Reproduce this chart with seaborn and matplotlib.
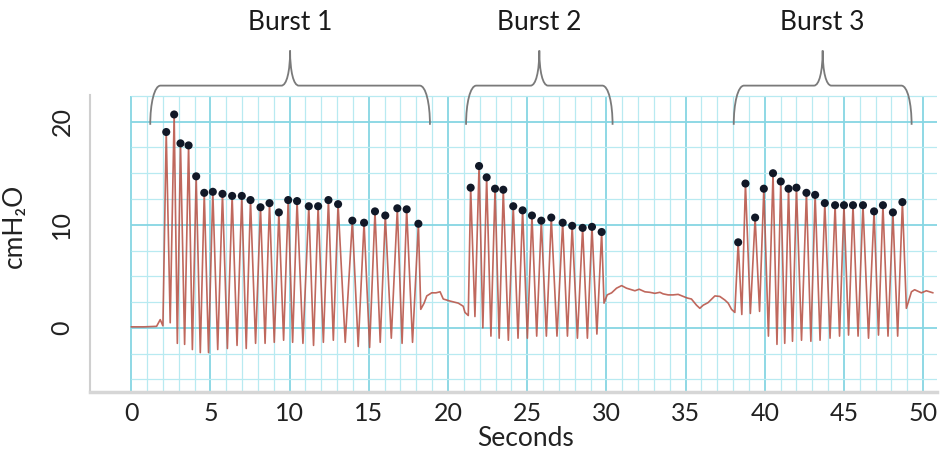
import matplotlib
matplotlib.use("Agg")
import numpy as np
import pandas as pd
import matplotlib.pyplot as plt
from matplotlib.path import Path
from matplotlib.patches import PathPatch
import seaborn as sns

# ---- values (seconds, cmH2O) ----
pre_t = [0.0, 0.8, 1.6, 1.83, 2.0]
pre_v = [0.1, 0.1, 0.15, 0.8, 0.2]

b1_peak_t = [2.21, 2.71, 3.11, 3.62, 4.10, 4.61, 5.15, 5.76, 6.37, 6.98, 7.53, 8.16, 8.73, 9.32,
             9.91, 10.47, 11.21, 11.80, 12.45, 13.06, 13.96, 14.70, 15.39, 16.04, 16.80, 17.39, 18.13]
b1_peak_v = [19.0, 20.7, 17.9, 17.7, 14.7, 13.1, 13.2, 13.0, 12.8, 12.8, 12.4, 11.7, 12.1, 11.2,
             12.4, 12.3, 11.8, 11.8, 12.4, 12.0, 10.4, 10.2, 11.3, 10.9, 11.6, 11.5, 10.1]
b1_trough_t = [2.46, 2.91, 3.37, 3.86, 4.36, 4.88, 5.46, 6.07, 6.68, 7.26, 7.85, 8.45, 9.03,
               9.62, 10.19, 10.84, 11.51, 12.13, 12.76, 13.51, 14.33, 15.05, 15.72, 16.42, 17.10, 17.76]
b1_trough_v = [0.5, -1.5, -1.6, -2.1, -2.4, -2.4, -2.1, -2.0, -1.7, -2.0, -1.5, -1.5, -1.4,
               -1.2, -1.4, -1.5, -1.7, -1.4, -1.2, -1.4, -1.8, -1.9, -1.4, -1.0, -1.5, -1.4]

gap1_t = [18.28, 18.49, 18.66, 18.97, 19.24, 19.5, 19.7, 20.13, 20.65, 20.96, 21.07, 21.28]
gap1_v = [1.8, 2.4, 3.1, 3.4, 3.4, 3.5, 2.8, 2.6, 2.4, 2.1, 1.5, 1.2]

b2_peak_t = [21.43, 21.96, 22.44, 22.97, 23.49, 24.12, 24.71, 25.30, 25.89, 26.52, 27.24,
             27.84, 28.50, 29.09, 29.70]
b2_peak_v = [13.6, 15.7, 14.6, 13.5, 13.4, 11.8, 11.4, 10.9, 10.4, 10.7, 10.2, 9.9, 9.7, 9.8, 9.3]
b2_trough_t = [21.70, 22.20, 22.71, 23.23, 23.81, 24.42, 25.01, 25.60, 26.21, 26.88, 27.54,
               28.17, 28.80, 29.40]
b2_trough_v = [1.1, 0.0, -0.8, -1.0, -1.2, -1.0, -1.0, -0.8, -0.8, -0.8, -0.8, -1.0, -1.0, -0.6]

gap2_t = [29.85, 30.05, 30.33, 30.64, 30.96, 31.27, 31.59, 31.8, 32.07, 32.43, 32.74, 33.06,
          33.38, 33.58, 33.9, 34.21, 34.53, 34.85, 35.1, 35.37, 35.69, 35.9, 36.11, 36.42,
          36.85, 37.16, 37.48, 37.69, 37.9, 38.11]
gap2_v = [2.4, 3.2, 3.4, 3.85, 4.1, 3.85, 3.7, 3.6, 3.75, 3.5, 3.45, 3.35, 3.45, 3.3, 3.2, 3.2,
          3.25, 3.05, 2.9, 2.8, 2.2, 1.9, 2.2, 2.45, 3.1, 3.05, 2.7, 2.4, 1.8, 1.5]

b3_peak_t = [38.32, 38.78, 39.39, 39.94, 40.52, 41.01, 41.50, 42.00, 42.63, 43.18, 43.79,
             44.44, 45.00, 45.57, 46.20, 46.90, 47.46, 48.09, 48.69]
b3_peak_v = [8.3, 14.0, 10.7, 13.5, 15.0, 14.2, 13.5, 13.6, 13.1, 12.9, 12.1, 11.9, 11.9, 11.9,
             11.9, 11.3, 11.9, 11.2, 12.2]
b3_trough_t = [38.55, 39.09, 39.67, 40.23, 40.77, 41.26, 41.75, 42.32, 42.91, 43.49, 44.12,
               44.72, 45.29, 45.89, 46.55, 47.18, 47.78, 48.39]
b3_trough_v = [1.3, 1.4, 1.6, -0.8, -1.6, -1.5, -1.3, -1.2, -1.3, -1.2, -1.0, -0.8, -0.7, -0.8,
               -1.0, -0.7, -0.8, -0.8]

post_t = [48.94, 49.26, 49.46, 49.89, 50.2, 50.62]
post_v = [1.9, 3.5, 3.7, 3.4, 3.6, 3.4]

burst_labels = ["Burst 1", "Burst 2", "Burst 3"]
burst_spans = [(1.2, 18.86), (21.14, 30.39), (38.04, 49.27)]


def burst(pt, pv, tt, tv):
    t, v = [], []
    for i in range(len(pt)):
        t.append(pt[i]); v.append(pv[i])
        if i < len(tt):
            t.append(tt[i]); v.append(tv[i])
    return t, v


pieces = [(pre_t, pre_v), burst(b1_peak_t, b1_peak_v, b1_trough_t, b1_trough_v),
          (gap1_t, gap1_v), burst(b2_peak_t, b2_peak_v, b2_trough_t, b2_trough_v),
          (gap2_t, gap2_v), burst(b3_peak_t, b3_peak_v, b3_trough_t, b3_trough_v),
          (post_t, post_v)]
trace = pd.DataFrame({"t": sum([p[0] for p in pieces], []),
                      "v": sum([p[1] for p in pieces], [])})
peaks = pd.DataFrame({"t": b1_peak_t + b2_peak_t + b3_peak_t,
                      "v": b1_peak_v + b2_peak_v + b3_peak_v})

sns.set_style("white")
plt.rcParams["font.family"] = ["Lato", "DejaVu Sans"]

fig = plt.figure(figsize=(9.48, 4.54), dpi=100)
ax = fig.add_axes([0.095, 0.137, 0.893, 0.654])
xmin, xmax = -2.6, 50.85
ymin, ymax = -6.2, 22.6
ax.set_xlim(xmin, xmax)
ax.set_ylim(ymin, ymax)

# chart-paper grid, only from t = 0 onward
minor_c, major_c = "#b8eaf1", "#86d6e3"
for x in range(0, 51):
    ax.vlines(x, ymin, 22.5, color=major_c if x % 5 == 0 else minor_c,
              lw=1.3 if x % 5 == 0 else 0.9, zorder=0)
for y in np.arange(-5, 22.6, 2.5):
    ax.hlines(y, 0, xmax, color=major_c if y % 10 == 0 else minor_c,
              lw=1.3 if y % 10 == 0 else 0.9, zorder=0)

sns.lineplot(data=trace, x="t", y="v", sort=False, estimator=None, color="#b9574b",
             lw=1.2, alpha=0.9, ax=ax, zorder=2)
sns.scatterplot(data=peaks, x="t", y="v", color="#111827", s=34, edgecolor="none",
                ax=ax, zorder=3)

# braces + labels above the plot
yl, ym, yt = 19.7, 23.5, 26.9
for (x0, x1), lab in zip(burst_spans, burst_labels):
    xc = (x0 + x1) / 2
    a, b = 0.65, 0.55
    verts = [(x0, yl), (x0, yl + 0.55 * (ym - yl)), (x0 + 0.4 * a, ym), (x0 + a, ym),
             (xc - b, ym),
             (xc - 0.4 * b, ym), (xc, ym + 0.4 * (yt - ym)), (xc, yt),
             (xc, ym + 0.4 * (yt - ym)), (xc + 0.4 * b, ym), (xc + b, ym),
             (x1 - a, ym),
             (x1 - 0.4 * a, ym), (x1, yl + 0.55 * (ym - yl)), (x1, yl)]
    codes = [Path.MOVETO, Path.CURVE4, Path.CURVE4, Path.CURVE4, Path.LINETO,
             Path.CURVE4, Path.CURVE4, Path.CURVE4, Path.CURVE4, Path.CURVE4, Path.CURVE4,
             Path.LINETO, Path.CURVE4, Path.CURVE4, Path.CURVE4]
    ax.add_patch(PathPatch(Path(verts, codes), fill=False, edgecolor="#7a7a7a", lw=1.3,
                           clip_on=False, zorder=4))
    ax.text(xc, 29.6, lab, ha="center", va="center", fontsize=19, color="#1a1a1a",
            clip_on=False)

# axes styling
for s in ["top", "right"]:
    ax.spines[s].set_visible(False)
ax.spines["left"].set_color("#cfcfcf")
ax.spines["left"].set_linewidth(1.5)
ax.spines["bottom"].set_color("#d6d6d6")
ax.spines["bottom"].set_linewidth(2.5)

ax.set_xticks(range(0, 51, 5))
ax.set_xticks(range(-2, 51), minor=True)
ax.set_yticks([0, 10, 20])
ax.set_yticks(np.arange(-5, 22.6, 2.5), minor=True)
ax.tick_params(axis="x", which="both", direction="in", length=3, color="#9a9a9a",
               labelsize=18, pad=7, labelcolor="#222222")
ax.tick_params(axis="y", which="both", direction="in", length=2, width=2, color="#9a9a9a",
               labelsize=18, pad=12, labelcolor="#222222")
for lbl in ax.get_yticklabels():
    lbl.set_rotation(90)
    lbl.set_va("center")

ax.set_xlabel("Seconds", fontsize=19, color="#222222")
ax.set_ylabel("cmH₂O", fontsize=19, color="#222222")
ax.xaxis.set_label_coords(0.514, -0.115)
ax.yaxis.set_label_coords(-0.075, 0.56)

fig.savefig("out.png", dpi=100)
